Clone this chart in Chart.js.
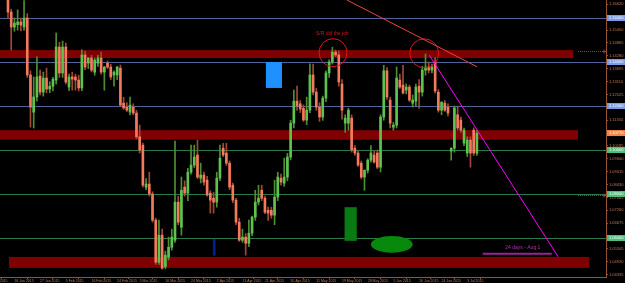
<!DOCTYPE html>
<html>
<head>
<meta charset="utf-8">
<script src="https://cdn.jsdelivr.net/npm/chart.js@4.4.0/dist/chart.umd.min.js"></script>
<style>
  html, body { margin: 0; padding: 0; background: #000; }
  canvas { display: block; }
</style>
</head>
<body>
<canvas id="chart" width="625" height="283"></canvas>
<script>
// === данные свечей (дневки) ===
const opens = [
  1.1700, 1.1627, 1.1559, 1.1570, 1.1582, 1.1559, 1.1600, 1.1341, 1.1172, 1.1241,
  1.1336, 1.1263, 1.1327, 1.1277, 1.1290, 1.1318, 1.1468, 1.1350, 1.1468, 1.1286,
  1.1332, 1.1332, 1.1318, 1.1282, 1.1432, 1.1395, 1.1418, 1.1354, 1.1395, 1.1418,
  1.1354, 1.1395, 1.1377, 1.1341, 1.1341, 1.1372, 1.1213, 1.1195, 1.1172, 1.1195,
  1.1168, 1.1060, 1.1022, 1.0831, 1.0845, 1.0800, 1.0681, 1.0490, 1.0613, 1.0470,
  1.0513, 1.0558, 1.0590, 1.0763, 1.0649, 1.0831, 1.0804, 1.0899, 1.0931, 1.0977,
  1.0872, 1.0886, 1.0863, 1.0804, 1.0781, 1.0763, 1.0872, 1.1008, 1.0986, 1.0940,
  1.0840, 1.0772, 1.0672, 1.0590, 1.0604, 1.0576, 1.0622, 1.0695, 1.0763, 1.0817,
  1.0781, 1.0726, 1.0726, 1.0704, 1.0786, 1.0872, 1.0849, 1.0877, 1.0968, 1.1122,
  1.1222, 1.1210, 1.1190, 1.1136, 1.1181, 1.1341, 1.1263, 1.1195, 1.1150, 1.1236,
  1.1350, 1.1400, 1.1445, 1.1432, 1.1300, 1.1122, 1.1122, 1.1145, 1.1008, 1.0986,
  1.0940, 1.0877, 1.0908, 1.0954, 1.0977, 1.0986, 1.0922, 1.1150, 1.1360, 1.1227,
  1.1104, 1.1113, 1.1318, 1.1295, 1.1272, 1.1286, 1.1213, 1.1222, 1.1290, 1.1263,
  1.1363, 1.1377, 1.1363, 1.1400, 1.1263, 1.1181, 1.1213, 1.1195, 1.0995, 1.1008,
  1.1160, 1.1136, 1.1031, 1.0986, 1.1045, 1.1090, 1.0986
];
const highs = [
  1.1760, 1.1640, 1.1600, 1.1637, 1.1600, 1.1679, 1.1620, 1.1360, 1.1332, 1.1423,
  1.1363, 1.1354, 1.1372, 1.1310, 1.1330, 1.1532, 1.1490, 1.1495, 1.1486, 1.1345,
  1.1354, 1.1345, 1.1340, 1.1455, 1.1450, 1.1420, 1.1430, 1.1418, 1.1430, 1.1445,
  1.1380, 1.1405, 1.1390, 1.1360, 1.1380, 1.1386, 1.1240, 1.1215, 1.1241, 1.1210,
  1.1180, 1.1113, 1.1031, 1.0870, 1.0899, 1.0810, 1.0690, 1.0681, 1.0640, 1.0540,
  1.0604, 1.0640, 1.1040, 1.0790, 1.0877, 1.0860, 1.0917, 1.1022, 1.1022, 1.1045,
  1.0940, 1.0900, 1.0880, 1.0815, 1.0808, 1.0899, 1.1022, 1.1030, 1.1031, 1.0950,
  1.0850, 1.0780, 1.0690, 1.0640, 1.0620, 1.0681, 1.0700, 1.0817, 1.0840, 1.0840,
  1.0790, 1.0740, 1.0740, 1.0863, 1.0899, 1.0890, 1.0963, 1.0985, 1.1135, 1.1272,
  1.1290, 1.1225, 1.1205, 1.1240, 1.1392, 1.1390, 1.1280, 1.1215, 1.1245, 1.1360,
  1.1410, 1.1467, 1.1455, 1.1450, 1.1320, 1.1160, 1.1190, 1.1160, 1.1020, 1.0995,
  1.0950, 1.0910, 1.0960, 1.1020, 1.0995, 1.1000, 1.1160, 1.1385, 1.1375, 1.1240,
  1.1125, 1.1377, 1.1345, 1.1385, 1.1300, 1.1295, 1.1250, 1.1300, 1.1320, 1.1380,
  1.1436, 1.1400, 1.1390, 1.1420, 1.1275, 1.1220, 1.1225, 1.1210, 1.1010, 1.1200,
  1.1200, 1.1150, 1.1100, 1.1060, 1.1060, 1.1100, 1.1090
];
const lows = [
  1.1600, 1.1454, 1.1540, 1.1545, 1.1541, 1.1545, 1.1330, 1.1104, 1.1100, 1.1222,
  1.1250, 1.1245, 1.1260, 1.1260, 1.1268, 1.1300, 1.1330, 1.1330, 1.1300, 1.1270,
  1.1272, 1.1272, 1.1268, 1.1270, 1.1365, 1.1370, 1.1355, 1.1340, 1.1380, 1.1345,
  1.1272, 1.1370, 1.1320, 1.1290, 1.1320, 1.1200, 1.1185, 1.1175, 1.1160, 1.1160,
  1.1050, 1.0986, 1.0831, 1.0820, 1.0790, 1.0672, 1.0480, 1.0480, 1.0458, 1.0460,
  1.0500, 1.0545, 1.0580, 1.0660, 1.0613, 1.0790, 1.0770, 1.0890, 1.0920, 1.0870,
  1.0850, 1.0840, 1.0790, 1.0713, 1.0713, 1.0740, 1.0860, 1.0970, 1.0930, 1.0820,
  1.0760, 1.0660, 1.0585, 1.0580, 1.0522, 1.0560, 1.0610, 1.0680, 1.0750, 1.0770,
  1.0710, 1.0680, 1.0690, 1.0660, 1.0770, 1.0840, 1.0835, 1.0860, 1.0955, 1.1100,
  1.1180, 1.1170, 1.1130, 1.1115, 1.1170, 1.1250, 1.1180, 1.1130, 1.1135, 1.1220,
  1.1330, 1.1390, 1.1425, 1.1290, 1.1140, 1.1080, 1.1090, 1.0990, 1.0975, 1.0925,
  1.0870, 1.0817, 1.0895, 1.0945, 1.0940, 1.0915, 1.0900, 1.1135, 1.1230, 1.1100,
  1.1090, 1.1100, 1.1280, 1.1255, 1.1255, 1.1220, 1.1195, 1.1200, 1.1190, 1.1245,
  1.1340, 1.1350, 1.1350, 1.1260, 1.1172, 1.1160, 1.1175, 1.1155, 1.0954, 1.0990,
  1.1090, 1.1080, 1.1020, 1.0970, 1.0922, 1.0975, 1.0975
];
const closes = [
  1.1627, 1.1559, 1.1577, 1.1582, 1.1568, 1.1600, 1.1341, 1.1195, 1.1241, 1.1332,
  1.1263, 1.1327, 1.1277, 1.1290, 1.1322, 1.1468, 1.1350, 1.1468, 1.1309, 1.1332,
  1.1322, 1.1318, 1.1282, 1.1432, 1.1377, 1.1418, 1.1363, 1.1409, 1.1418, 1.1354,
  1.1377, 1.1377, 1.1332, 1.1354, 1.1377, 1.1204, 1.1191, 1.1181, 1.1204, 1.1168,
  1.1060, 1.1000, 1.0840, 1.0845, 1.0800, 1.0681, 1.0490, 1.0613, 1.0463, 1.0522,
  1.0558, 1.0604, 1.0763, 1.0672, 1.0817, 1.0804, 1.0899, 1.0931, 1.0968, 1.0877,
  1.0886, 1.0854, 1.0795, 1.0772, 1.0763, 1.0872, 1.0963, 1.0977, 1.0940, 1.0831,
  1.0772, 1.0672, 1.0590, 1.0604, 1.0576, 1.0622, 1.0695, 1.0763, 1.0781, 1.0781,
  1.0717, 1.0713, 1.0704, 1.0786, 1.0877, 1.0854, 1.0877, 1.0968, 1.1122, 1.1222,
  1.1200, 1.1186, 1.1136, 1.1181, 1.1341, 1.1263, 1.1195, 1.1150, 1.1236, 1.1350,
  1.1400, 1.1445, 1.1432, 1.1309, 1.1181, 1.1145, 1.1181, 1.1000, 1.0986, 1.0931,
  1.0877, 1.0908, 1.0954, 1.0986, 1.0945, 1.0922, 1.1150, 1.1360, 1.1241, 1.1122,
  1.1113, 1.1327, 1.1286, 1.1259, 1.1286, 1.1227, 1.1227, 1.1286, 1.1263, 1.1363,
  1.1377, 1.1363, 1.1377, 1.1268, 1.1181, 1.1217, 1.1181, 1.1168, 1.1008, 1.1191,
  1.1100, 1.1090, 1.1090, 1.1045, 1.0986, 1.0986, 1.1077
];

// подписи времени (номер бара) и цены
const dateTicks = [
  "16 Jan 2015", "27 Jan 2015", "5 Feb 2015", "16 Feb 2015", "24 Feb 2015",
  "5 Mar 2015", "16 Mar 2015", "24 Mar 2015", "2 Apr 2015", "13 Apr 2015",
  "21 Apr 2015", "30 Apr 2015", "11 May 2015", "19 May 2015", "28 May 2015",
  "5 Jun 2015", "16 Jun 2015", "24 Jun 2015", "3 Jul 2015"
];
const dateTickBars = [2, 10, 18, 26, 34, 41, 49, 57, 65, 73, 80, 88, 96, 104, 112, 120, 128, 135, 143];
const priceTicks = [
  1.16620, 1.15450, 1.14865, 1.14280, 1.13695, 1.13110, 1.12525, 1.11355,
  1.10185, 1.09600, 1.09015, 1.08430, 1.07845, 1.07260, 1.06675, 1.05505,
  1.04920, 1.04335
];
const blueLevels = [1.16, 1.14, 1.12];
const greenLevels = [1.10, 1.08, 1.06];
const lastPrice = 1.10770;

// видимый диапазон
const xMin = -2.49, xMax = 186.2;
const yMin = 1.04227, yMax = 1.16818;

const axisColor = "#94532f";
const labelColor = "#c07a52";
const FONT = "Liberation Sans";

const isUp = opens.map((o, i) => closes[i] >= o);

// === разметка поверх графика ===
const drawings = {
    id: "drawings",
    beforeDatasetsDraw(chart) {
        const { ctx, chartArea: a, scales: { x, y } } = chart;
        ctx.save();
        // красные зоны
        ctx.fillStyle = "#800000";
        [[-3, 176, 1.1454, 1.1418], [-3, 177.5, 1.1090, 1.1047], [0.3, 181, 1.0514, 1.0464]].forEach(z => {
            const x1 = Math.max(x.getPixelForValue(z[0]), a.left);
            const x2 = x.getPixelForValue(z[1]);
            const y1 = y.getPixelForValue(z[2]);
            const y2 = y.getPixelForValue(z[3]);
            ctx.fillRect(x1, y1, x2 - x1, y2 - y1);
        });
        // горизонтальные уровни
        ctx.lineWidth = 1;
        const hline = (v, c) => {
            const py = Math.round(y.getPixelForValue(v)) + 0.5;
            ctx.strokeStyle = c;
            ctx.beginPath();
            ctx.moveTo(a.left, py);
            ctx.lineTo(a.right, py);
            ctx.stroke();
        };
        blueLevels.forEach(v => hline(v, "#52639c"));
        greenLevels.forEach(v => hline(v, "#2b7a4b"));
        ctx.restore();
    },
    afterDatasetsDraw(chart) {
        const { ctx, chartArea: a, scales: { x, y } } = chart;
        const px = v => x.getPixelForValue(v);
        const py = v => y.getPixelForValue(v);
        const barW = px(1) - px(0);
        ctx.save();

        // прямоугольники
        const rect = (b1, b2, p1, p2, c) => {
            ctx.fillStyle = c;
            ctx.fillRect(px(b1), py(p1), px(b2) - px(b1), py(p2) - py(p1));
        };
        rect(80.3, 85.3, 1.1400, 1.1282, "#1e90ff");
        rect(104.8, 108.6, 1.0740, 1.0587, "#0b7a14");
        rect(63.8, 64.6, 1.0596, 1.0520, "#0b1c8f");

        // эллипс
        ctx.fillStyle = "#07890b";
        ctx.beginPath();
        ctx.ellipse(px(119.5), py(1.0571), 6.5 * barW, py(1.0533) - py(1.0571), 0, 0, Math.PI * 2);
        ctx.fill();

        // круги
        ctx.strokeStyle = "#e01414";
        ctx.lineWidth = 1;
        [[101.2, 1.14423, 4.36], [129.6, 1.14395, 4.5]].forEach(c => {
            ctx.beginPath();
            ctx.arc(px(c[0]), py(c[1]), c[2] * barW, 0, Math.PI * 2);
            ctx.stroke();
        });

        // трендовые линии
        const seg = (b1, p1, b2, p2, c, w) => {
            ctx.strokeStyle = c;
            ctx.lineWidth = w;
            ctx.beginPath();
            ctx.moveTo(px(b1), py(p1));
            ctx.lineTo(px(b2), py(p2));
            ctx.stroke();
        };
        seg(105.5, 1.1682, 146, 1.13786, "#ee4444", 1);
        seg(131.2, 1.14304, 171.3, 1.05150, "#ff00ff", 1);
        seg(147.8, 1.05286, 169.3, 1.05286, "#9b209b", 2);

        // подписи
        ctx.font = "5px " + FONT;
        ctx.textAlign = "center";
        ctx.textBaseline = "middle";
        ctx.fillStyle = "#d01818";
        ctx.fillText("S/R did the job", px(101), py(1.15273));
        ctx.fillStyle = "#b52db5";
        ctx.fillText("24 days - Aug 1", px(160.3), py(1.05545));

        // пунктир у шкалы
        ctx.strokeStyle = "#c03030";
        ctx.lineWidth = 1;
        ctx.setLineDash([1, 1]);
        [1.1450, 1.0795].forEach(v => {
            const yy = Math.round(py(v)) + 0.5;
            ctx.beginPath();
            ctx.moveTo(a.right - 28, yy);
            ctx.lineTo(a.right - 3, yy);
            ctx.stroke();
        });
        ctx.setLineDash([]);
        [1.1450, 1.0795].forEach(v => {
            const yy = Math.round(py(v)) + 0.5;
            ctx.beginPath();
            ctx.moveTo(a.right - 4, yy);
            ctx.lineTo(a.right, yy);
            ctx.moveTo(a.right - 2, yy - 2);
            ctx.lineTo(a.right - 2, yy + 2);
            ctx.stroke();
        });
        ctx.restore();
    },
    afterDraw(chart) {
        const { ctx, chartArea: a, scales: { y } } = chart;
        ctx.save();
        ctx.font = "4px " + FONT;
        ctx.textBaseline = "middle";
        ctx.textAlign = "left";
        const box = (v, bg) => {
            const yy = y.getPixelForValue(v);
            ctx.fillStyle = bg;
            ctx.fillRect(a.right + 1, yy - 3, 18, 6);
            ctx.fillStyle = "#ffffff";
            ctx.fillText(v.toFixed(5), a.right + 3, yy);
        };
        blueLevels.forEach(v => box(v, "#7c9be6"));
        greenLevels.forEach(v => box(v, "#4cbf7a"));
        box(lastPrice, "#f5854a");

        // хвост предыдущей подписи даты
        ctx.font = "3.5px " + FONT;
        ctx.fillStyle = labelColor;
        ctx.textAlign = "right";
        ctx.textBaseline = "top";
        ctx.fillText("2015", 7.5, a.bottom + 2);
        ctx.restore();
    }
};

// === свечи через плавающие столбцы ===
const ctx = document.getElementById("chart").getContext("2d");
new Chart(ctx, {
    type: "bar",
    data: {
        datasets: [
            {
                label: "body",
                data: opens.map((o, i) => ({ x: i, y: [o, closes[i]] })),
                backgroundColor: isUp.map(u => (u ? "#5ec24f" : "#f37a5c")),
                barThickness: 2,
                grouped: false,
                clip: 0,
            },
            {
                label: "wick",
                data: highs.map((h, i) => ({ x: i, y: [lows[i], h] })),
                backgroundColor: isUp.map(u => (u ? "#4f8f34" : "#a04a36")),
                barThickness: 1,
                grouped: false,
                clip: 0,
            },
        ],
    },
    options: {
        responsive: false,
        animation: false,
        layout: { padding: 0 },
        plugins: { legend: { display: false }, tooltip: { enabled: false } },
        scales: {
            x: {
                type: "linear",
                min: xMin,
                max: xMax,
                offset: false,
                grid: { drawOnChartArea: false, tickLength: 2, color: axisColor },
                border: { color: axisColor },
                ticks: {
                    autoSkip: false,
                    maxRotation: 0,
                    align: "start",
                    padding: 0,
                    color: labelColor,
                    font: { family: FONT, size: 3.5 },
                    callback: (v, i) => dateTicks[i],
                },
                afterBuildTicks: s => { s.ticks = dateTickBars.map(v => ({ value: v })); },
                afterFit: s => {
                    s.height = 6;
                    s.paddingLeft = 0; s.paddingRight = 0; s.paddingTop = 0; s.paddingBottom = 0;
                },
            },
            y: {
                position: "right",
                min: yMin,
                max: yMax,
                grid: { drawOnChartArea: false, tickLength: 2, color: axisColor },
                border: { color: axisColor },
                ticks: {
                    padding: 1,
                    color: labelColor,
                    font: { family: FONT, size: 4 },
                    callback: v => v.toFixed(5),
                },
                afterBuildTicks: s => { s.ticks = priceTicks.map(v => ({ value: v })); },
                afterFit: s => {
                    s.width = 19;
                    s.paddingLeft = 0; s.paddingRight = 0; s.paddingTop = 0; s.paddingBottom = 0;
                },
            },
        },
    },
    plugins: [drawings],
});
</script>
</body>
</html>
